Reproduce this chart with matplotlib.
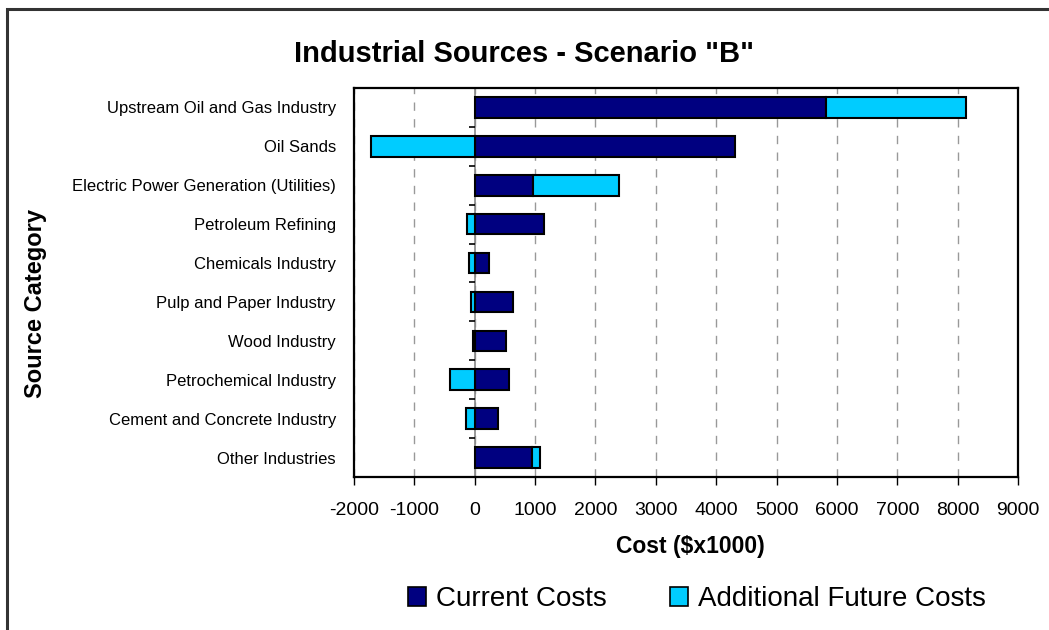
import matplotlib
matplotlib.use('Agg')
import matplotlib.pyplot as plt
from matplotlib.patches import Rectangle, Patch

plt.rcParams['font.family'] = ['Liberation Sans', 'DejaVu Sans']

categories = ['Upstream Oil and Gas Industry', 'Oil Sands',
              'Electric Power Generation (Utilities)', 'Petroleum Refining',
              'Chemicals Industry', 'Pulp and Paper Industry', 'Wood Industry',
              'Petrochemical Industry', 'Cement and Concrete Industry',
              'Other Industries']
current_costs = [5820, 4310, 960, 1145, 230, 635, 510, 570, 385, 955]
future_costs = [2320, -1720, 1430, -125, -100, -55, -30, -405, -150, 120]
xticks = list(range(-2000, 9001, 1000))

navy = '#000080'
cyan = '#00CCFF'

fig = plt.figure(figsize=(10.49, 6.30), dpi=100)
ax = fig.add_axes([354/1049, 1-477/630, 664/1049, 389/630])

# outer chart border
fig.patches.append(Rectangle((7/1049, -0.1), 1.2, 1-9/630+0.1, transform=fig.transFigure,
                             fill=False, edgecolor='#333333', linewidth=2.2))

ypos = list(range(len(categories)))
# positive future costs stack on top of current, negative ones go left from zero
left_future = [c if f > 0 else 0 for c, f in zip(current_costs, future_costs)]
ax.barh(ypos, current_costs, height=0.53, color=navy, edgecolor='black', linewidth=1.5, zorder=3)
ax.barh(ypos, future_costs, left=left_future, height=0.53, color=cyan, edgecolor='black',
        linewidth=1.5, zorder=3)

ax.set_xlim(-2000, 9000)
ax.set_ylim(len(categories) - 0.5, -0.5)
ax.set_xticks(xticks)
ax.set_xticklabels([str(t) for t in xticks], fontsize=14)
ax.tick_params(axis='x', length=6, width=1, pad=12, direction='out')
ax.set_yticks(ypos)
ax.set_yticklabels(categories, fontsize=12)
ax.tick_params(axis='y', length=0, pad=13)

ax.grid(axis='x', color='#999999', linestyle=(0, (6, 6)), linewidth=1, zorder=0)
ax.axvline(0, color='#888888', linewidth=1.2, zorder=2)
for b in [i + 0.5 for i in ypos[:-1]]:
    ax.plot([-100, 0], [b, b], color='black', linewidth=1.2, zorder=2, solid_capstyle='butt')

for s in ax.spines.values():
    s.set_linewidth(1.6)
    s.set_color('black')

fig.text(0.5, 1-54/630, 'Industrial Sources - Scenario "B"', fontsize=21,
         fontweight='bold', ha='center', va='center')
fig.text(36/1049, 1-303/630, 'Source Category', fontsize=17, fontweight='bold',
         rotation=90, ha='center', va='center')
fig.text(690/1049, 1-546/630, 'Cost ($x1000)', fontsize=16.5, fontweight='bold',
         ha='center', va='center')

handles = [Patch(facecolor=navy, edgecolor='black', linewidth=1.2, label='Current Costs'),
           Patch(facecolor=cyan, edgecolor='black', linewidth=1.2, label='Additional Future Costs')]
fig.legend(handles=handles, loc='center', bbox_to_anchor=(697/1049, 1-599/630), ncol=2,
           frameon=False, fontsize=20, handlelength=0.65, handleheight=0.65,
           handletextpad=0.36, columnspacing=2.3)

fig.savefig('out.png', dpi=100)
